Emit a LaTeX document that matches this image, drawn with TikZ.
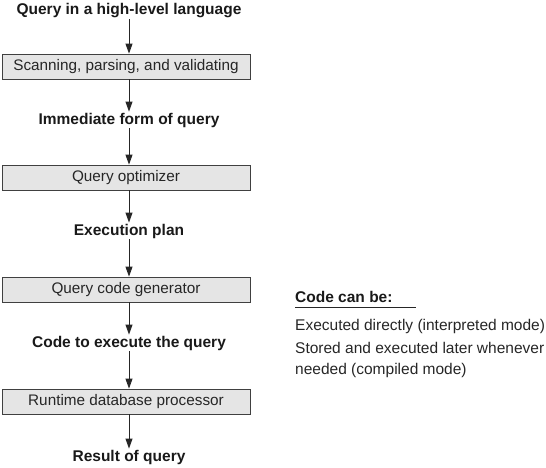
\documentclass[tikz,border=0pt]{standalone}
\usepackage{fontspec}
\setmainfont{Liberation Sans}
\usetikzlibrary{arrows.meta}
\begin{document}
\begin{tikzpicture}[x=1pt,y=-1pt,
  stage/.style={draw=black!75,fill=black!10,line width=0.8pt,minimum width=248pt,minimum height=25pt,inner sep=0pt,font=\fontsize{15.3}{17}\selectfont,text=black!85},
  lbl/.style={font=\fontsize{15.5}{18}\selectfont\bfseries,text=black!90,inner sep=1pt},
  note/.style={font=\fontsize{15.5}{20.5}\selectfont,text=black!85,anchor=west,inner sep=0pt},
  flow/.style={-{Triangle[length=10pt,width=7pt]},line width=0.9pt,draw=black!85}]
\useasboundingbox (0,0) rectangle (546,467);
\node[lbl] (q) at (129,11) {Query in a high-level language};
\node[stage] (s1) at (126,66.5) {Scanning, parsing, and validating};
\node[lbl] (im) at (129,120) {Immediate form of query};
\node[stage] (s2) at (126,177.5) {Query optimizer};
\node[lbl] (ep) at (129,231) {Execution plan};
\node[stage] (s3) at (126,289.5) {Query code generator};
\node[lbl] (ce) at (129,343) {Code to execute the query};
\node[stage] (s4) at (126,401.5) {Runtime database processor};
\node[lbl] (r) at (129,457) {Result of query};
\coordinate (a1) at (129,0);
\draw[flow] (q.south -| a1) -- (s1.north -| a1);
\draw[flow] (s1.south -| a1) -- (im.north -| a1);
\draw[flow] (im.south -| a1) -- (s2.north -| a1);
\draw[flow] (s2.south -| a1) -- (ep.north -| a1);
\draw[flow] (ep.south -| a1) -- (s3.north -| a1);
\draw[flow] (s3.south -| a1) -- (ce.north -| a1);
\draw[flow] (ce.south -| a1) -- (s4.north -| a1);
\draw[flow] (s4.south -| a1) -- (r.north -| a1);
\node[note,font=\fontsize{15.5}{18}\selectfont\bfseries,text=black!90] (cb) at (295,297) {Code can be:};
\coordinate (ul) at (416,307);
\draw[line width=0.8pt,black!85] (cb.south west |- ul) -- (ul);
\node[note] (n1) at (295,326) {Executed directly (interpreted mode)};
\node[note,align=left] (n2) at (295,360) {Stored and executed later whenever\\needed (compiled mode)};
\end{tikzpicture}
\end{document}
